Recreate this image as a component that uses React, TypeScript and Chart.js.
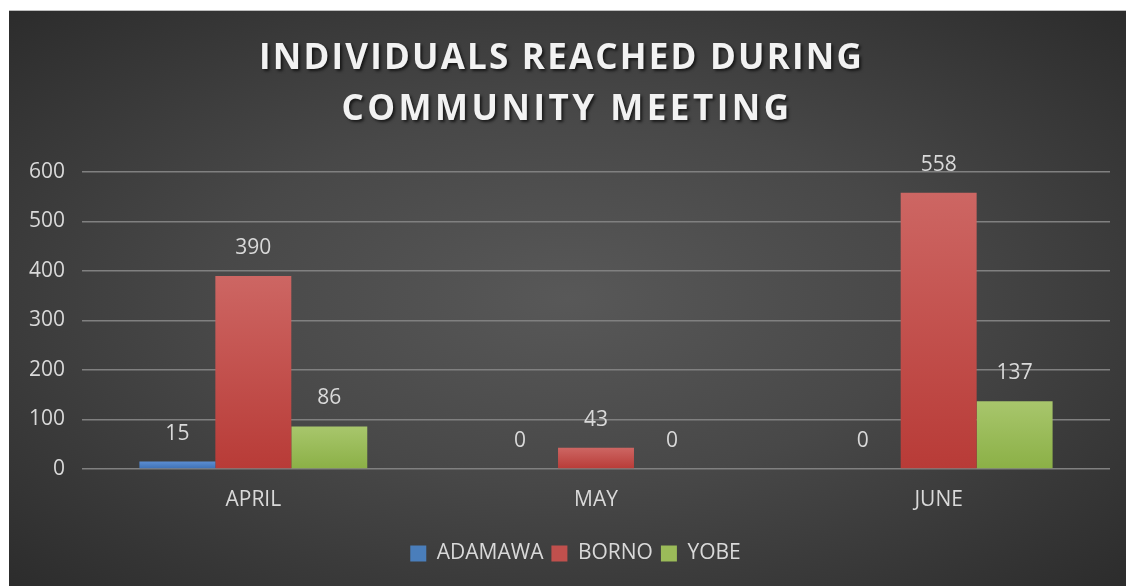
import React, { useEffect, useRef } from "react";
import { Chart, registerables } from "chart.js";

Chart.register(...registerables);

const titleLines = ["INDIVIDUALS REACHED DURING", "COMMUNITY MEETING"];
const months = ["APRIL", "MAY", "JUNE"];
const seriesNames = ["ADAMAWA", "BORNO", "YOBE"];
const adamawa = [15, 0, 0];
const borno = [390, 43, 558];
const yobe = [86, 0, 137];
const yMax = 600;
const yStep = 100;

const FONT = "'Open Sans', 'Liberation Sans', sans-serif";
const TEXT = "#d9d9d9";
const FS = 21;

const palette = [
  { solid: "#4a7ebb", top: "#5b8dd2", bottom: "#3d70b4" },
  { solid: "#c0504d", top: "#cd6663", bottom: "#b83b37" },
  { solid: "#9bbb59", top: "#a8c66c", bottom: "#8bb046" },
];

function barFill(i: number) {
  return (ctx: any) => {
    const chart = ctx.chart;
    const ys = chart.scales && chart.scales.y;
    if (!chart.chartArea || !ys || typeof ctx.raw !== "number") return palette[i].solid;
    const yTop = ys.getPixelForValue(ctx.raw);
    const yBot = ys.getPixelForValue(0);
    if (Math.abs(yBot - yTop) < 1) return palette[i].solid;
    const g = chart.ctx.createLinearGradient(0, yTop, 0, yBot);
    g.addColorStop(0, palette[i].top);
    g.addColorStop(1, palette[i].bottom);
    return g;
  };
}

const titlePlugin = {
  id: "customTitle",
  afterDraw(chart: any) {
    const c = chart.ctx;
    c.save();
    c.font = `bold 35px ${FONT}`;
    c.textAlign = "center";
    c.textBaseline = "middle";
    c.fillStyle = "#f2f2f2";
    c.shadowColor = "rgba(0,0,0,0.65)";
    c.shadowOffsetX = 2;
    c.shadowOffsetY = 2;
    c.shadowBlur = 3;
    const cx = chart.width / 2;
    try { (c as any).letterSpacing = "2.2px"; } catch (e) {}
    c.fillText(titleLines[0], cx - 6, 48);
    try { (c as any).letterSpacing = "3.5px"; } catch (e) {}
    c.fillText(titleLines[1], cx - 0.5, 99);
    c.restore();
  },
};

const labelPlugin = {
  id: "barLabels",
  afterDatasetsDraw(chart: any) {
    const c = chart.ctx;
    c.save();
    c.font = `${FS}px ${FONT}`;
    c.fillStyle = TEXT;
    c.textAlign = "center";
    c.textBaseline = "middle";
    chart.data.datasets.forEach((ds: any, di: number) => {
      const meta = chart.getDatasetMeta(di);
      meta.data.forEach((el: any, i: number) => {
        c.fillText(String(ds.data[i]), el.x, el.y - 28);
      });
    });
    c.restore();
  },
};

const legendShift = {
  id: "legendShift",
  afterLayout(chart: any) {
    const l = chart.legend;
    if (l) {
      l.left += 16;
      l.right += 16;
    }
  },
};

export default function App() {
  const ref = useRef<HTMLCanvasElement>(null);

  useEffect(() => {
    if (!ref.current) return;
    const series = [adamawa, borno, yobe];
    const chart = new Chart(ref.current, {
      type: "bar",
      data: {
        labels: months,
        datasets: seriesNames.map((name, i) => ({
          label: name,
          data: series[i],
          backgroundColor: barFill(i),
          borderWidth: 0,
          categoryPercentage: 0.665,
          barPercentage: 1,
        })),
      },
      options: {
        animation: false,
        responsive: true,
        maintainAspectRatio: false,
        layout: { padding: { top: 161, left: 0, right: 16, bottom: 12 } },
        plugins: {
          title: { display: false },
          tooltip: { enabled: false },
          legend: {
            position: "bottom",
            labels: {
              color: TEXT,
              font: { family: FONT, size: FS },
              boxWidth: 16,
              boxHeight: 16,
              padding: 8,
              generateLabels: (ch: any) =>
                ch.data.datasets.map((ds: any, i: number) => ({
                  text: ds.label,
                  fillStyle: palette[i].solid,
                  strokeStyle: palette[i].solid,
                  lineWidth: 0,
                  fontColor: TEXT,
                  datasetIndex: i,
                  hidden: false,
                })),
            },
          },
        },
        scales: {
          x: {
            grid: { display: false, drawTicks: false },
            border: { display: false },
            ticks: { color: TEXT, font: { family: FONT, size: FS }, padding: 18 },
            afterFit: (s: any) => { s.height = 66; },
          },
          y: {
            min: 0,
            max: yMax,
            grid: { color: "#808080", lineWidth: 1.5, drawTicks: false },
            border: { display: false },
            ticks: { stepSize: yStep, color: TEXT, font: { family: FONT, size: FS }, padding: 17 },
            afterFit: (s: any) => { s.width = 73; },
          },
        },
      },
      plugins: [titlePlugin, labelPlugin, legendShift],
    });
    return () => chart.destroy();
  }, []);

  return (
    <div
      style={{
        position: "fixed",
        left: 9,
        top: 10,
        width: 1117,
        height: 576,
        background: "radial-gradient(ellipse at 50% 50%, #585858 0%, #484848 45%, #2c2c2c 100%)",
        borderTop: "1px solid #bdbdbd",
        boxSizing: "border-box",
      }}
    >
      <canvas ref={ref} />
    </div>
  );
}
